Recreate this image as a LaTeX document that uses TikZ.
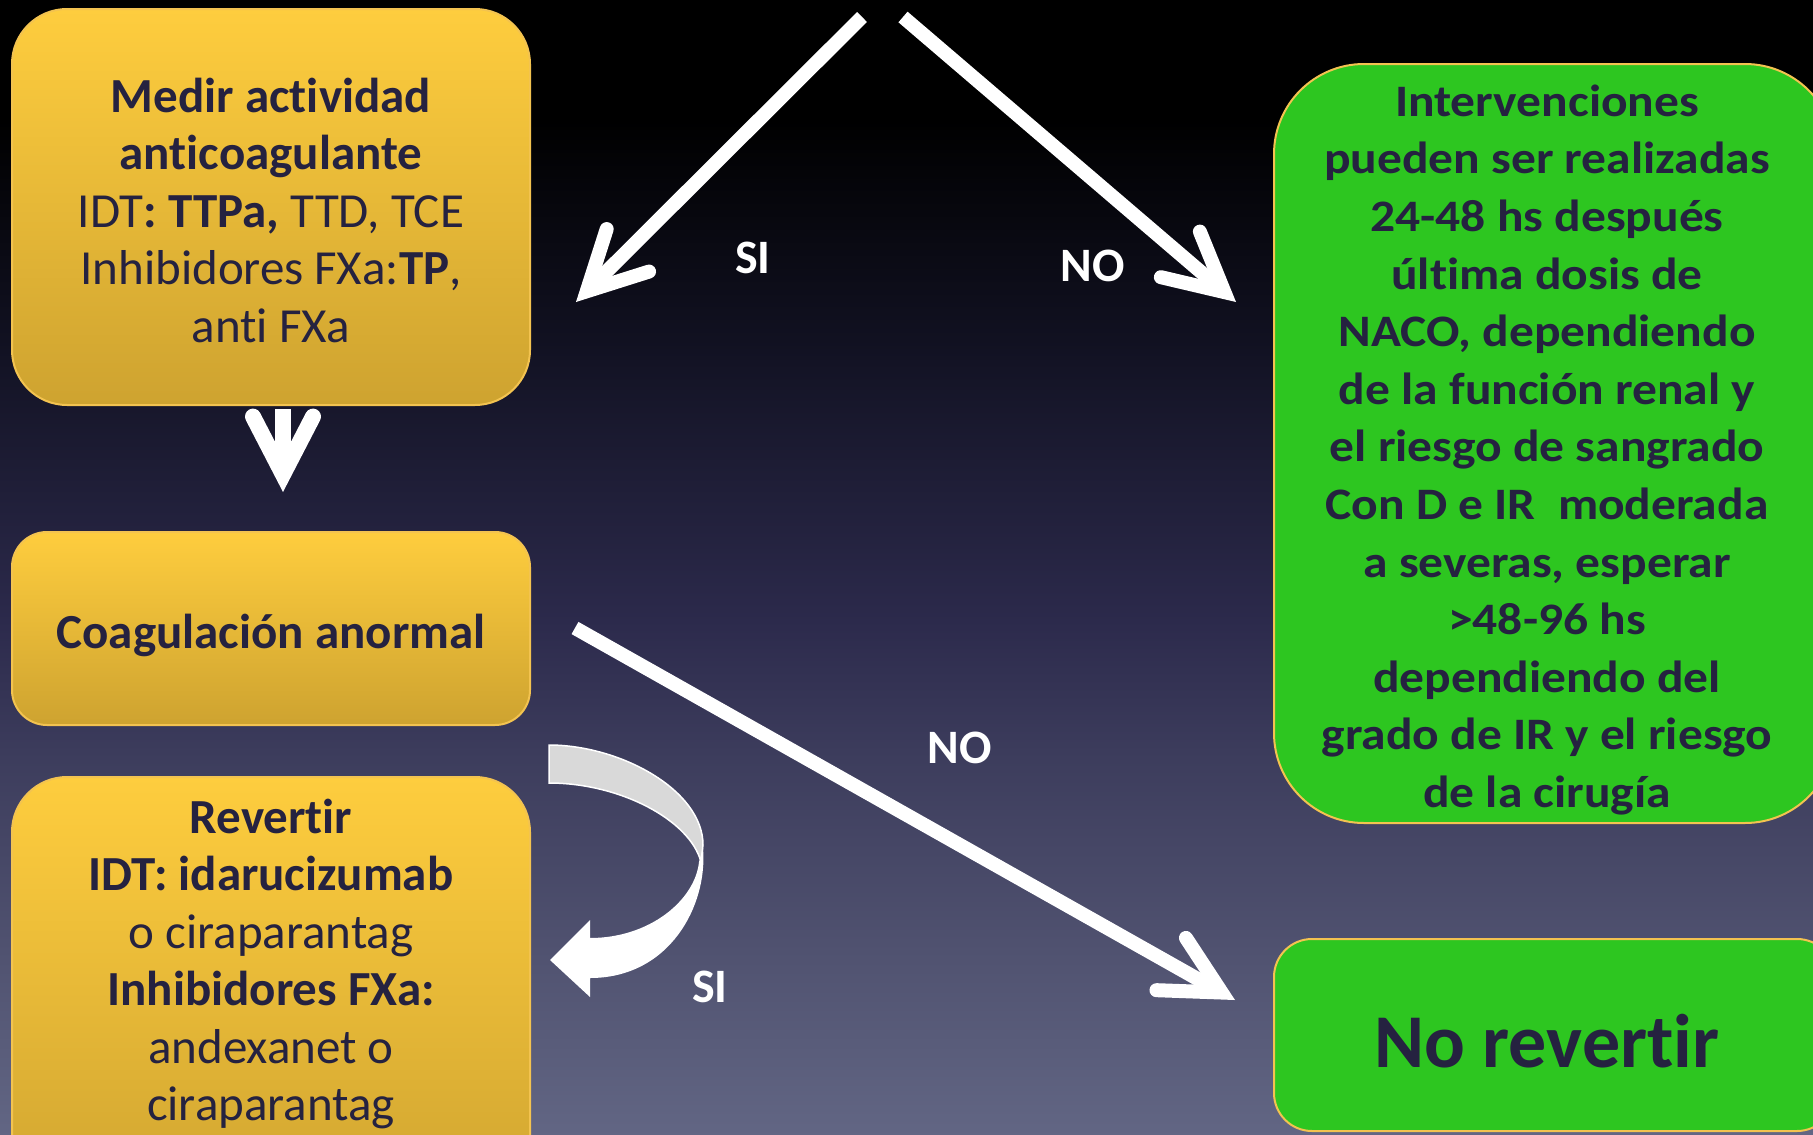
\documentclass[tikz,border=0pt]{standalone}
\usepackage{fontspec}
\setmainfont[Ligatures=NoCommon]{Carlito}
\newfontfamily\widefont[FakeStretch=1.1,Ligatures=NoCommon]{Carlito}
\usetikzlibrary{arrows.meta,calc}
\definecolor{txt}{RGB}{37,34,64}
\definecolor{ytop}{RGB}{254,205,62}
\definecolor{ybot}{RGB}{206,163,48}
\definecolor{gfill}{RGB}{45,198,32}
\definecolor{bord}{RGB}{243,195,80}
\definecolor{curvegray}{RGB}{217,217,217}
\definecolor{bgA}{RGB}{18,18,35}
\definecolor{bgB}{RGB}{44,42,76}
\definecolor{bgC}{RGB}{60,60,92}
\definecolor{bgD}{RGB}{80,82,112}
\definecolor{bgE}{RGB}{98,102,132}
\tikzset{
  ybox/.style={draw=bord, line width=2pt, top color=ytop, bottom color=ybot, rounded corners=#1, inner sep=0pt},
  gbox/.style={draw=bord, line width=2pt, fill=gfill, rounded corners=#1, inner sep=0pt},
  ytext/.style={text=txt, align=center, font=\fontsize{49pt}{57.5pt}\selectfont},
  gtext/.style={text=txt, align=center, font=\widefont\bfseries\fontsize{45pt}{57.6pt}\selectfont},
  lbl/.style={text=white, font=\bfseries\fontsize{48pt}{50pt}\selectfont},
  wa/.style={draw=white, line width=14pt, line cap=butt,
    -{Straight Barb[length=58pt, width=60pt, line cap=round, line join=miter]}}
}
\begin{document}
\begin{tikzpicture}[x=1pt, y=-1pt]
\useasboundingbox (0,0) rectangle (1813,1135);
\clip (0,0) rectangle (1813,1135);
% background
\fill[black] (-2,-2) rectangle (1815,122);
\shade[top color=black, bottom color=bgA] (-2,120) rectangle (1815,352);
\shade[top color=bgA, bottom color=bgB] (-2,350) rectangle (1815,622);
\shade[top color=bgB, bottom color=bgC] (-2,620) rectangle (1815,752);
\shade[top color=bgC, bottom color=bgD] (-2,750) rectangle (1815,952);
\shade[top color=bgD, bottom color=bgE] (-2,950) rectangle (1815,1137);

% yellow boxes
\node[ybox=55pt, minimum width=518pt, minimum height=396pt] (box1) at (271,207) {};
\node[ytext] (box1txt) at (271,210)
  {\textbf{Medir actividad}\\ \textbf{anticoagulante}\\ IDT\textbf{: TTPa,} TTD, TCE\\ Inhibidores FXa:\textbf{TP},\\ anti FXa};
\node[ybox=35pt, minimum width=518pt, minimum height=193pt] (box2) at (271,628.5) {};
\node[ytext] (box2txt) at (271,635) {\textbf{Coagulación anormal}};
\node[ybox=55pt, minimum width=518pt, minimum height=446pt] (box3) at (271,1000) {};
\node[ytext] (box3txt) at (271,964)
  {\textbf{Revertir}\\ \textbf{IDT: idarucizumab}\\ o ciraparantag\\ \textbf{Inhibidores FXa:}\\ andexanet o\\ ciraparantag};

% green boxes
\node[gbox=90pt, minimum width=561pt, minimum height=759pt] (g1) at (1554.5,443.5) {};
\node[gtext] (g1txt) at (1547,450)
  {Intervenciones\\ pueden ser realizadas\\ 24-48 hs después\\ última dosis de\\ NACO, dependiendo\\ de la función renal y\\ el riesgo de sangrado\\ Con D e IR\ \ moderada\\ a severas, esperar\\ >48-96 hs\\ dependiendo del\\ grado de IR y el riesgo\\ de la cirugía};
\node[gbox=38pt, minimum width=561pt, minimum height=192pt] (g2) at (1554.5,1035) {};
\node[text=txt, font=\bfseries\fontsize{76pt}{80pt}\selectfont] (g2txt) at (1547,1041) {No revertir};

% arrows
\coordinate (tl0) at (862,17);
\coordinate (tl1) at (576,302);
\coordinate (tr0) at (903,17);
\coordinate (tr1) at (1236,302);
\coordinate (na0) at (575,628);
\coordinate (na1) at (1235,1000);
\draw[wa] (tl0) -- (tl1);
\draw[wa] (tr0) -- (tr1);
\draw[wa] (na0) -- (na1);
\draw[wa, line width=16pt, shorten <=3pt, shorten >=39pt] ([xshift=12pt]box1.south) -- ([xshift=12pt]box2.north);

% curved block arrow
\fill[curvegray, draw=white, line width=1.5pt] (549,745) .. controls (620,745) and (703,790) .. (703,845)
  -- (701,862) .. controls (690,820) and (620,783) .. (549,783) -- cycle;
\fill[white] (703,848) .. controls (708,905) and (670,978) .. (590,978) -- (590,997) -- (550,960)
  -- (590,920) -- (590,938) .. controls (650,938) and (695,900) .. (699,862) -- cycle;

% labels
\node[lbl] (si1) at (753,258) {SI};
\node[lbl] (no1) at (1093,266) {NO};
\node[lbl] (no2) at (960,748) {NO};
\node[lbl] (si2) at (710,987) {SI};
\end{tikzpicture}
\end{document}
